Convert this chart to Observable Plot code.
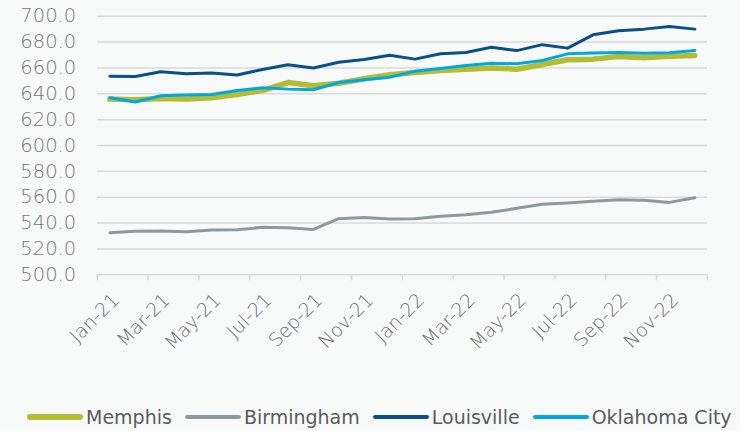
<!DOCTYPE html>
<html><head><meta charset="utf-8">
<script src="https://cdn.jsdelivr.net/npm/d3@7"></script>
<script src="https://cdn.jsdelivr.net/npm/@observablehq/plot@0.6"></script>
<style>
html,body{margin:0;padding:0;background:#ffffff;}
#wrap{position:relative;width:739px;height:431px;background:#f8fafa;overflow:hidden;}
#chart svg{display:block;}
#legend{position:absolute;left:27px;top:402px;height:30px;display:flex;align-items:center;font-family:"DejaVu Sans",sans-serif;font-weight:400;font-size:19px;color:#5a5a5a;white-space:nowrap;}
.item{display:flex;align-items:center;margin-right:13px;}
.sw{width:56px;border-radius:3px;margin-right:3px;}
</style>
</head><body>
<div id="wrap"><div id="chart"></div><div id="legend"></div></div>
<script>
const months = ["Jan-21","Feb-21","Mar-21","Apr-21","May-21","Jun-21","Jul-21","Aug-21","Sep-21","Oct-21","Nov-21","Dec-21",
                "Jan-22","Feb-22","Mar-22","Apr-22","May-22","Jun-22","Jul-22","Aug-22","Sep-22","Oct-22","Nov-22","Dec-22"];
const memphis    = [635.9,635.3,636.3,636.0,637.0,639.5,642.5,648.7,646.2,648.2,651.6,654.7,656.5,658.0,659.0,660.0,659.0,662.6,666.3,666.8,668.8,667.8,669.1,669.6];
const birmingham = [532.6,533.6,533.8,533.3,534.6,534.9,536.7,536.4,535.1,543.4,544.4,543.1,543.4,545.2,546.5,548.3,551.4,554.5,555.5,556.8,558.1,557.6,556.0,559.6];
const louisville = [653.6,653.4,657.0,655.4,656.0,654.5,658.8,662.4,660.0,664.4,666.5,669.8,666.8,671.0,671.9,676.0,673.4,678.0,675.3,685.6,688.7,690.0,692.0,690.0];
const oklahoma   = [637.0,633.6,638.5,639.0,639.5,642.6,644.6,643.6,643.1,648.7,650.8,652.8,657.5,659.5,661.9,663.6,663.2,665.7,670.9,671.5,671.9,671.4,671.8,673.5];
const cities = ["Memphis","Birmingham","Louisville","Oklahoma City"];
const colors = ["#b4bc33","#8e999f","#0b4f88","#00a7e1"];
const yTicks = [500,520,540,560,580,600,620,640,660,680,700];

const seriesValues = [memphis, birmingham, louisville, oklahoma];
const widths = [5.5, 3, 3, 3];
const xLabelIdx = months.map((m,i)=>i).filter(i=>i%2===0);
const xBoundaries = d3.range(0, months.length + 1, 2).map(i=>i-0.5);

const lineMarks = seriesValues.map((vals,k)=>Plot.line(vals, {
  x:(d,i)=>i, y:d=>d, stroke:colors[k], strokeWidth:widths[k],
  strokeLinejoin:"round", strokeLinecap:"round"
}));

const chart = Plot.plot({
  width: 739, height: 400,
  marginLeft: 96.7, marginRight: 32, marginTop: 15.7, marginBottom: 125.7,
  style: {fontFamily:"DejaVu Sans, sans-serif", fontWeight:300, background:"transparent", overflow:"visible"},
  x: {type:"linear", domain:[-0.5, months.length - 0.5]},
  y: {domain:[500,700]},
  marks: [
    Plot.ruleY(yTicks, {stroke:"#d9d9d9", strokeWidth:1.5}),
    Plot.axisX(xBoundaries, {tickSize:6, stroke:"#d9d9d9", strokeWidth:1.5, tickFormat:()=>""}),
    Plot.axisX(xLabelIdx, {tickSize:0, tickPadding:8, tickRotate:-45, tickFormat:i=>months[i], fontSize:19, fill:"#6b6b6b", dx:6, dy:14}),
    Plot.axisY(yTicks, {tickSize:0, tickPadding:21, tickFormat:d=>d.toFixed(1), fontSize:19.5, fill:"#767676"}),
    ...lineMarks
  ]
});
document.getElementById("chart").appendChild(chart);

const legend = document.getElementById("legend");
cities.forEach((c,k)=>{
  const it = document.createElement("div"); it.className="item";
  const sw = document.createElement("span"); sw.className="sw";
  sw.style.background = colors[k]; sw.style.height = (k===0?6:3.5)+"px";
  const tx = document.createElement("span"); tx.textContent = c;
  it.appendChild(sw); it.appendChild(tx); legend.appendChild(it);
});
</script>
</body></html>
